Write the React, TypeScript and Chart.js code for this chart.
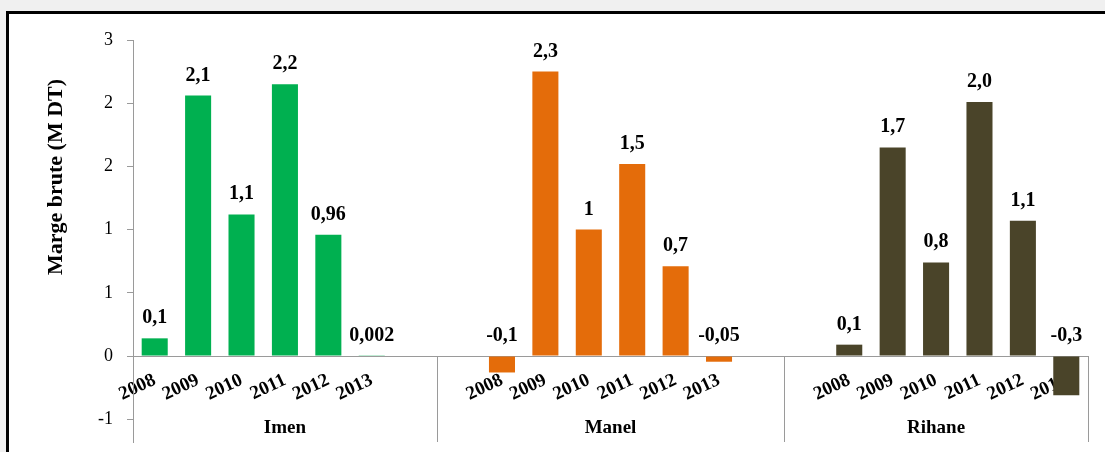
import React, { useEffect, useRef } from "react";
import { Chart, registerables } from "chart.js";

Chart.register(...registerables);

// ---- Data ----
const years = ["2008", "2009", "2010", "2011", "2012", "2013"];
const groups = ["Imen", "Manel", "Rihane"];
const imenValues = [0.14, 2.06, 1.12, 2.15, 0.96, 0.002];
const manelValues = [-0.13, 2.25, 1.0, 1.52, 0.71, -0.045];
const rihaneValues = [0.09, 1.65, 0.74, 2.01, 1.07, -0.31];
const imenLabels = ["0,1", "2,1", "1,1", "2,2", "0,96", "0,002"];
const manelLabels = ["-0,1", "2,3", "1", "1,5", "0,7", "-0,05"];
const rihaneLabels = ["0,1", "1,7", "0,8", "2,0", "1,1", "-0,3"];
// empty category slots before / after each group (as in the original Excel sheet)
const blanksBefore = [0, 1, 1];
const blanksAfter = [1, 1, 0];
const groupColors = ["#00B050", "#E46C0A", "#4A4429"];
const yTickMin = -0.5;
const yTickMax = 2.5;
const yTickStep = 0.5;

const seriesValues = [imenValues, manelValues, rihaneValues];
const seriesLabels = [imenLabels, manelLabels, rihaneLabels];

// Build category table
const categories: string[] = [];
const values: (number | null)[] = [];
const valueTexts: (string | null)[] = [];
const barColors: string[] = [];
const groupRanges: { name: string; start: number; end: number }[] = [];
groups.forEach((g, gi) => {
  const start = categories.length;
  for (let i = 0; i < blanksBefore[gi]; i++) {
    categories.push("");
    values.push(null);
    valueTexts.push(null);
    barColors.push("transparent");
  }
  years.forEach((y, yi) => {
    categories.push(y);
    values.push(seriesValues[gi][yi]);
    valueTexts.push(seriesLabels[gi][yi]);
    barColors.push(groupColors[gi]);
  });
  for (let i = 0; i < blanksAfter[gi]; i++) {
    categories.push("");
    values.push(null);
    valueTexts.push(null);
    barColors.push("transparent");
  }
  groupRanges.push({ name: g, start, end: categories.length - 1 });
});

const SERIF = '"Times New Roman", "Liberation Serif", serif';
const AXIS_COLOR = "#9a9a9a";

const decorPlugin = {
  id: "decor",
  afterDatasetsDraw(chart: any) {
    const { ctx } = chart;
    const ys = chart.scales.y;
    const meta = chart.getDatasetMeta(0);
    // value labels
    ctx.save();
    ctx.fillStyle = "#000";
    ctx.font = `bold 20px ${SERIF}`;
    ctx.textAlign = "center";
    ctx.textBaseline = "alphabetic";
    meta.data.forEach((el: any, i: number) => {
      const v = values[i];
      const t = valueTexts[i];
      if (v == null || t == null) return;
      const y = ys.getPixelForValue(Math.max(v, 0)) - 15;
      ctx.fillText(t, el.x, y);
    });
    ctx.restore();
  },
  afterDraw(chart: any) {
    const { ctx, chartArea } = chart;
    const xs = chart.scales.x;
    const ys = chart.scales.y;
    const zeroY = ys.getPixelForValue(0);
    const slot = xs.getPixelForValue(1) - xs.getPixelForValue(0);
    ctx.save();
    // group dividers
    ctx.strokeStyle = AXIS_COLOR;
    ctx.lineWidth = 1;
    groupRanges.forEach((r) => {
      const right = xs.getPixelForValue(r.end) + slot / 2;
      const xr = Math.round(right) + 0.5;
      ctx.beginPath();
      ctx.moveTo(xr, zeroY);
      ctx.lineTo(xr, chartArea.bottom);
      ctx.stroke();
    });
    // group labels
    ctx.fillStyle = "#000";
    ctx.font = `bold 19px ${SERIF}`;
    ctx.textAlign = "center";
    ctx.textBaseline = "middle";
    groupRanges.forEach((r) => {
      const l = xs.getPixelForValue(r.start) - slot / 2;
      const rr = xs.getPixelForValue(r.end) + slot / 2;
      ctx.fillText(r.name, (l + rr) / 2, 428);
    });
    // y axis title
    ctx.translate(56, 177);
    ctx.rotate(-Math.PI / 2);
    ctx.font = `bold 22px ${SERIF}`;
    ctx.fillText("Marge brute (M DT)", 0, 0);
    ctx.restore();
  },
};

export default function App() {
  const canvasRef = useRef<HTMLCanvasElement | null>(null);

  useEffect(() => {
    if (!canvasRef.current) return;
    const chart = new Chart(canvasRef.current, {
      type: "bar",
      data: {
        labels: categories,
        datasets: [
          {
            data: values,
            backgroundColor: barColors,
            borderWidth: 0,
            barPercentage: 0.6,
            categoryPercentage: 1,
          },
        ],
      },
      options: {
        responsive: false,
        animation: false,
        layout: { padding: { top: 40, right: 17, bottom: 10, left: 0 } },
        plugins: {
          legend: { display: false },
          tooltip: { enabled: false },
        },
        scales: {
          x: {
            position: { y: 0 } as any,
            z: 1,
            grid: { display: false, drawTicks: false },
            border: { display: true, color: AXIS_COLOR, width: 1 },
            afterFit: (s: any) => {
              s.paddingLeft = 0;
              s.paddingRight = 0;
              s.paddingTop = 0;
              s.paddingBottom = 0;
            },
            ticks: {
              autoSkip: false,
              minRotation: 25,
              maxRotation: 25,
              padding: 13,
              color: "#000",
              font: { family: SERIF, size: 19, weight: "bold" },
            },
          },
          y: {
            min: -0.68,
            max: yTickMax,
            afterBuildTicks: (s: any) => {
              s.ticks = s.ticks.filter(
                (t: any) =>
                  t.value >= yTickMin - 1e-9 &&
                  Math.abs(t.value / yTickStep - Math.round(t.value / yTickStep)) < 1e-6
              );
            },
            afterFit: (s: any) => {
              s.width = 133;
              s.paddingTop = 0;
              s.paddingBottom = 0;
            },
            grid: {
              display: true,
              drawOnChartArea: false,
              drawTicks: true,
              tickLength: 6,
              color: AXIS_COLOR,
            },
            border: { display: true, color: AXIS_COLOR, width: 1 },
            ticks: {
              stepSize: yTickStep,
              padding: 14,
              color: "#000",
              font: { family: SERIF, size: 18 },
              callback: (v: any) => {
                const n = Number(v);
                const r = Math.sign(n) * Math.round(Math.abs(n));
                return String(r === 0 ? 0 : r);
              },
            },
          },
        },
      },
      plugins: [decorPlugin],
    });
    return () => chart.destroy();
  }, []);

  return (
    <div
      style={{
        position: "fixed",
        left: 0,
        top: 0,
        width: 1105,
        height: 452,
        background: "#f0f0f0",
        overflow: "hidden",
      }}
    >
      <div
        style={{
          position: "absolute",
          left: 6,
          top: 11,
          right: 0,
          bottom: 0,
          borderTop: "3px solid #000",
          borderLeft: "3px solid #000",
          background: "#fff",
        }}
      />
      <canvas
        ref={canvasRef}
        width={1105}
        height={452}
        style={{ position: "absolute", left: 0, top: 0, width: 1105, height: 452 }}
      />
    </div>
  );
}
